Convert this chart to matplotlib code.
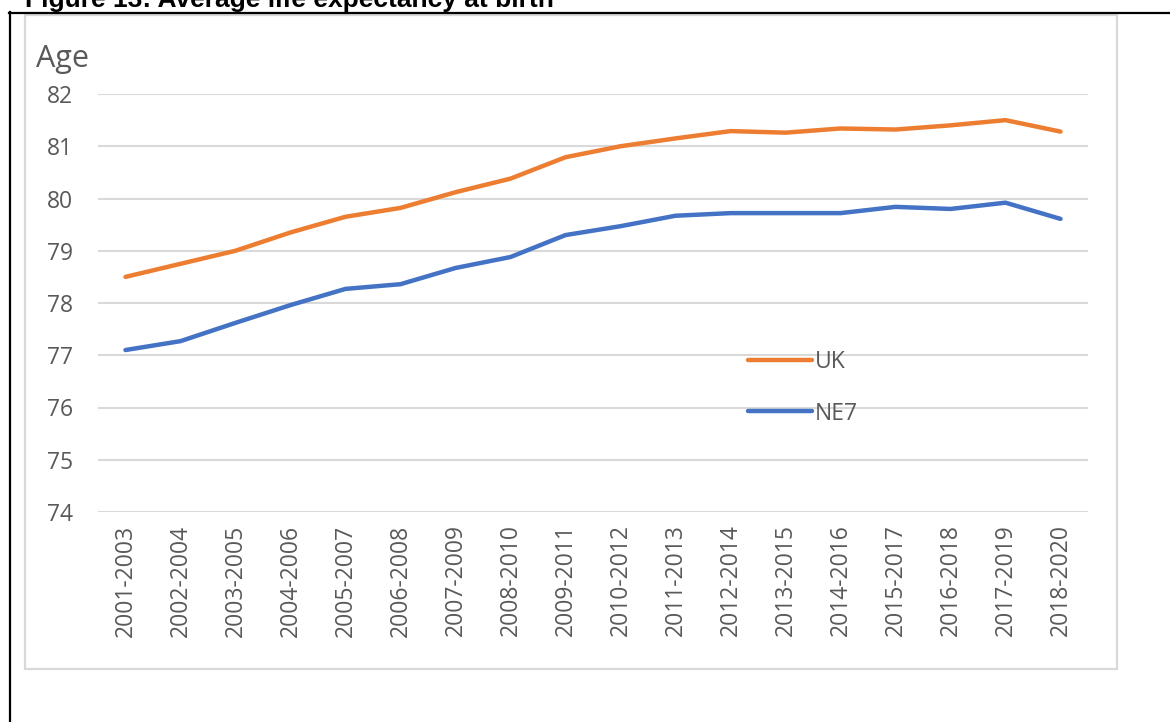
"""Average life expectancy at birth, UK vs NE7."""

import matplotlib

matplotlib.use('Agg')
from matplotlib import pyplot as plt  # noqa: E402
from matplotlib.lines import Line2D  # noqa: E402
from matplotlib.patches import Rectangle  # noqa: E402

periods = [
    '2001-2003', '2002-2004', '2003-2005', '2004-2006', '2005-2007', '2006-2008',
    '2007-2009', '2008-2010', '2009-2011', '2010-2012', '2011-2013', '2012-2014',
    '2013-2015', '2014-2016', '2015-2017', '2016-2018', '2017-2019', '2018-2020',
]
uk = [78.50, 78.75, 79.00, 79.35, 79.65, 79.82, 80.12, 80.38, 80.79, 81.00,
      81.15, 81.29, 81.26, 81.34, 81.32, 81.40, 81.50, 81.28]
ne7 = [77.10, 77.27, 77.62, 77.96, 78.27, 78.36, 78.67, 78.88, 79.30, 79.47,
       79.67, 79.72, 79.72, 79.72, 79.84, 79.80, 79.92, 79.61]

W, H = 1170, 722
GREY_TEXT = '#595959'
GRID = '#d9d9d9'
FONT = 'Open Sans'
TICK_SIZE = 16.5


def fx(px):
    return px / W


def fy(py):
    return 1 - py / H


figure = plt.figure(figsize=(W / 100, H / 100), dpi=100)

# outer black frame and the light chart-area border
figure.add_artist(Line2D([fx(9), fx(W)], [fy(12.5), fy(12.5)], color='black', lw=1.6))
figure.add_artist(Line2D([fx(9.5), fx(9.5)], [fy(12), fy(H)], color='black', lw=1.6))
figure.add_artist(Rectangle((fx(25), fy(669)), fx(1117 - 25), (669 - 15) / H,
                            fill=False, edgecolor=GRID, lw=1.6))

figure.text(fx(25), fy(7.5), 'Figure 13: Average life expectancy at birth',
            family='Liberation Sans', weight='bold', fontsize=19, va='baseline')

axis = figure.add_axes([fx(98), fy(512), fx(1088 - 98), (512 - 94) / H])
positions = range(len(periods))
axis.plot(positions, uk, color='#ED7D31', lw=3.2, solid_capstyle='round', label='UK')
axis.plot(positions, ne7, color='#4472C4', lw=3.2, solid_capstyle='round', label='NE7')

axis.set_xlim(-0.5, len(periods) - 0.5)
axis.set_ylim(74, 82)
axis.set_yticks(range(74, 83))
axis.set_xticks(list(positions))
axis.set_xticklabels(periods, rotation=90, family=FONT, fontsize=TICK_SIZE, color=GREY_TEXT)
for label in axis.get_yticklabels():
    label.set_family(FONT)
    label.set_fontsize(TICK_SIZE)
    label.set_color(GREY_TEXT)
axis.tick_params(axis='y', length=0, pad=18)
axis.tick_params(axis='x', length=0, pad=9)
axis.grid(True, axis='y', color=GRID, lw=1.5)
axis.set_axisbelow(True)
for spine in axis.spines.values():
    spine.set_visible(False)

figure.text(fx(36), fy(67), 'Age', family=FONT, fontsize=22, color=GREY_TEXT, va='baseline')

legend = axis.legend(loc='upper left', bbox_to_anchor=(fx(748), fy(350)),
                     bbox_transform=figure.transFigure, frameon=False, borderpad=0,
                     borderaxespad=0, handlelength=2.8, handletextpad=0.12,
                     labelspacing=1.2, prop={'family': FONT, 'size': TICK_SIZE})
for text in legend.get_texts():
    text.set_color(GREY_TEXT)

figure.savefig('out.png', dpi=100)
plt.close(figure)
